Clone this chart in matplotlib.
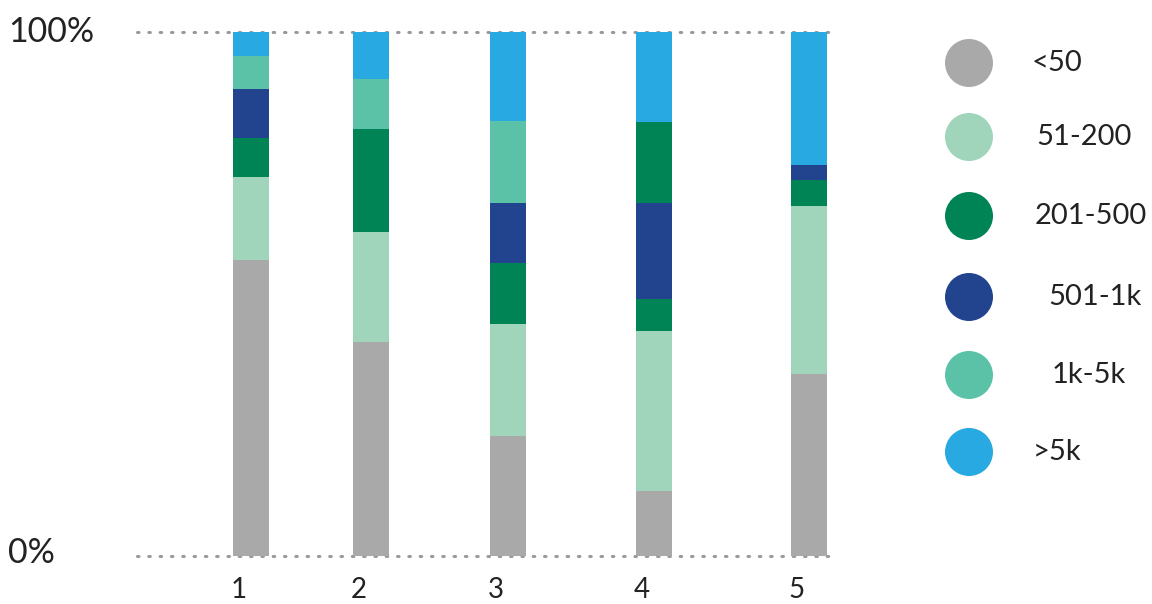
import matplotlib
matplotlib.use("Agg")
import matplotlib.pyplot as plt
from matplotlib.patches import Circle

plt.rcParams["font.family"] = ["Lato", "DejaVu Sans"]

# share of each size band per group (percent, bottom to top)
grupos = ["1", "2", "3", "4", "5"]
bandas = ["<50", "51-200", "201-500", "501-1k", "1k-5k", ">5k"]
menos_50 = [56.5, 40.8, 22.9, 12.4, 34.7]
de_51_200 = [15.8, 21.0, 21.4, 30.5, 32.1]
de_201_500 = [7.4, 19.7, 11.6, 6.1, 4.9]
de_501_1k = [9.5, 0.0, 11.5, 18.3, 2.9]
de_1k_5k = [6.3, 9.5, 15.6, 15.5, 0.0]
mas_5k = [4.5, 9.0, 17.0, 17.2, 25.4]
series = [menos_50, de_51_200, de_201_500, de_501_1k, de_1k_5k, mas_5k]

colores = ["#A9A9AA", "#A0D5BC", "#008455", "#22448E", "#5BC2A7", "#29A9E1"]
# group 4 draws its 1k-5k block in the darker green
color_especial = {(4, 3): "#008455"}

# bar centres in pixels from the left edge of the axes
pos_x = [114, 234, 371, 517, 672]
ancho = 36

W, H = 1152, 604
fig = plt.figure(figsize=(W / 100, H / 100), dpi=100)
ax = fig.add_axes([137 / W, (H - 556) / H, 693 / W, 524 / H])
ax.set_xlim(0, 693)
ax.set_ylim(0, 100)

base = [0.0] * len(grupos)
for k, valores in enumerate(series):
    cols = [color_especial.get((k, i), colores[k]) for i in range(len(grupos))]
    ax.bar(pos_x, valores, width=ancho, bottom=base, color=cols, linewidth=0)
    base = [b + v for b, v in zip(base, valores)]

for y in (0, 100):
    ax.axhline(y, color="#9A9A9A", linewidth=2.2, linestyle=(0, (0.5, 3.2)),
               dash_capstyle="round", zorder=0, clip_on=False)

for s in ax.spines.values():
    s.set_visible(False)
ax.set_yticks([])
ax.set_xticks([p - 12 for p in pos_x])
ax.set_xticklabels(grupos, fontsize=20, color="#222222")
ax.tick_params(axis="x", length=0, pad=15)

fig.text(8 / W, 1 - 32 / H, "100%", fontsize=24.5, color="#222222",
         ha="left", va="center")
fig.text(8 / W, 1 - 553 / H, "0%", fontsize=24.5, color="#222222",
         ha="left", va="center")

# legend: coloured circles with labels
ley_y = [63, 137, 216, 297, 375, 452]
ley_x_txt = [1032, 1036, 1035, 1048, 1052, 1033]
for k, nombre in enumerate(bandas):
    cy = ley_y[k]
    fig.patches.append(Circle((969 / 100, (H - cy) / 100), 24 / 100,
                              transform=fig.dpi_scale_trans,
                              color=colores[k], linewidth=0))
    fig.text(ley_x_txt[k] / W, 1 - cy / H, nombre, fontsize=21,
             color="#222222", ha="left", va="center")

fig.savefig("out.png", dpi=100)
